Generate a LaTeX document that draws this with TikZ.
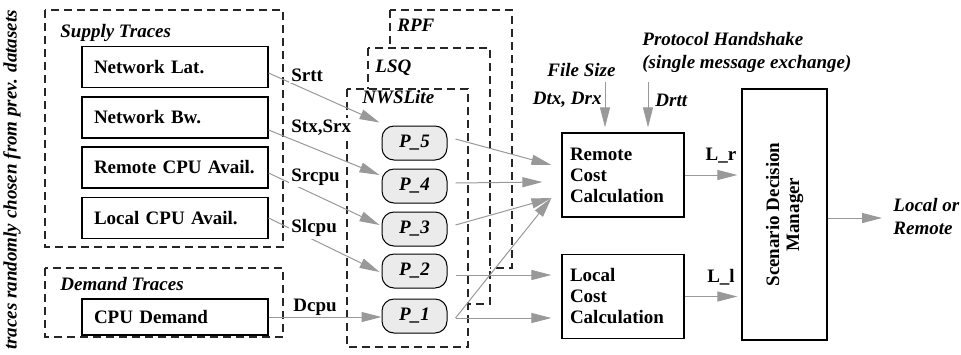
\documentclass[tikz,border=0pt]{standalone}
\usepackage{fontspec}
\setmainfont{Liberation Serif}
\usetikzlibrary{arrows.meta,calc}

\tikzset{
  txt/.style={font=\fontsize{9.5}{10.5}\selectfont\bfseries},
  itxt/.style={font=\fontsize{9.5}{11.5}\selectfont\bfseries\itshape},
  grp/.style={draw=black!85, line width=0.6pt, dash pattern=on 4pt off 2.5pt},
  trace/.style={txt, draw, line width=0.6pt, inner xsep=6pt, text width=81pt,
    minimum height=20.5pt, align=left},
  pnode/.style={itxt, draw, line width=0.5pt, fill=black!8, rounded corners=6pt,
    minimum width=32.5pt, minimum height=17pt, inner sep=0pt},
  cost/.style={txt, draw, line width=0.6pt, inner xsep=4pt, text width=53pt,
    minimum height=42pt, align=left},
  arr/.style={draw=black!40, line width=0.5pt, -{Triangle[length=10pt,width=5pt]}},
  tlbl/.style={txt, fill=white, inner sep=1pt, anchor=west}
}

\begin{document}
\begin{tikzpicture}[x=0.5pt, y=-0.5pt]
  \useasboundingbox (0,0) rectangle (961,354);

  % side note
  \node[itxt, rotate=90] (note) at (12,180) {traces randomly chosen from prev. datasets};

  % trace groups
  \draw[grp] (45,10) rectangle (283,247);
  \node[itxt, anchor=west, inner sep=0pt] (suplbl) at (60,33) {Supply Traces};
  \draw[grp] (45,268) rectangle (283,337);
  \node[itxt, anchor=west, inner sep=0pt] (demlbl) at (60,284) {Demand Traces};

  \node[trace] (nl) at (175,67) {Network Lat.};
  \node[trace] (nb) at (175,117.5) {Network Bw.};
  \node[trace] (rcpu) at (175,167.5) {Remote CPU Avail.};
  \node[trace] (lcpu) at (175,218) {Local CPU Avail.};
  \node[trace, minimum height=18pt] (cpud) at (175,317) {CPU Demand};

  % predictors (stacked)
  \draw[grp, fill=white] (390,10) rectangle (512,268);
  \node[itxt, anchor=west, inner sep=0pt] (rpflbl) at (397,25) {RPF};
  \draw[grp, fill=white] (368,48) rectangle (490,304);
  \node[itxt, anchor=west, inner sep=0pt] (lsqlbl) at (375,68) {LSQ};
  \draw[grp, fill=white] (347,89) rectangle (468,347);
  \node[itxt, anchor=west, inner sep=0pt] (nwslbl) at (362,97) {NWSLite};

  \foreach \i/\y in {5/143,4/186,3/229,2/271,1/316}
    \node[pnode] (p\i) at (414.5,\y) {P\_\i};

  % cost calculation
  \node[cost] (rc) at (623,175) {Remote\\Cost\\Calculation};
  \node[cost] (lc) at (623,296.5) {Local\\Cost\\Calculation};
  \node[txt, draw, line width=0.6pt, rotate=90, minimum width=125.5pt,
    minimum height=42.5pt, align=center, font=\fontsize{9.5}{10}\selectfont\bfseries]
    (sdm) at (784.5,214.5) {Scenario Decision\\Manager};

  % inputs from top
  \coordinate (fsin) at (605,82);
  \coordinate (hsin) at (648,82);
  \node[itxt] (fslbl) at (581.5,70) {File Size};
  \node[itxt, anchor=east, inner sep=0pt] (dtxlbl) at (602,100) {Dtx, Drx};
  \node[itxt, anchor=west, inner sep=0pt] (drttlbl) at (655,100) {Drtt};
  \node[itxt, anchor=west, align=left, inner sep=0pt] (hslbl) at (642,52)
    {Protocol Handshake\\(single message exchange)};
  \draw[arr, shorten >=2.5pt] (fsin) -- (fsin |- rc.north);
  \draw[arr, shorten >=2.5pt] (hsin) -- (hsin |- rc.north);

  % traces to predictors
  \draw[arr] ($(nl.east)+(0,6)$) -- ($(p5.north west)+(-2,-3)$);
  \draw[arr] ($(nb.east)+(0,12.5)$) -- ($(p4.west)+(-2,-11)$);
  \draw[arr] ($(rcpu.east)+(0,5.5)$) -- ($(p3.west)+(-2,-4)$);
  \draw[arr] (lcpu.east) -- ($(p2.west)+(-2,1)$);
  \draw[arr] (cpud.east) -- (cpud.east -| p1.west);

  % predictors to cost
  \draw[arr] ($(p5.east)+(8,-4)$) -- ($(rc.west)+(-10,-10)$);
  \draw[arr] ($(p4.east)+(8,-3)$) -- ($(rc.west)+(-19,7)$);
  \draw[arr] ($(p3.east)+(8,-4)$) -- ($(rc.west)+(-10,23)$);
  \draw[arr] ($(p1.east)+(8,2)$) -- ($(rc.west)+(-10,23)$);
  \draw[arr] ($(p2.east)+(8,4)$) -- ($(lc.west)+(-10,-21.5)$);
  \draw[arr] ($(p1.east)+(8,2)$) -- ($(lc.west)+(-10,21.5)$);

  % cost to manager (sdm is turned: north is its left side, south its right)
  \draw[arr, shorten >=2pt] (rc.east) -- (rc.east -| sdm.north);
  \node[txt] (lrlbl) at (721,156) {L\_r};
  \draw[arr, shorten >=2pt] (lc.east) -- (lc.east -| sdm.north);
  \node[txt] (lllbl) at (721,277) {L\_l};

  % decision
  \node[itxt, anchor=west, align=left, inner sep=0pt] (out) at (893,216) {Local or\\Remote};
  \coordinate (sdmout) at ($(sdm.south)+(0,3.5)$);
  \draw[arr, shorten >=5.5pt] (sdmout) -- (sdmout -| out.west);

  % line labels
  \node[tlbl] (srtt) at (289,75) {Srtt};
  \node[tlbl] (stx) at (289,128) {Stx,Srx};
  \node[tlbl] (srcpu) at (289,177) {Srcpu};
  \node[tlbl] (slcpu) at (289,228) {Slcpu};
  \node[tlbl] (dcpu) at (291,307) {Dcpu};
\end{tikzpicture}
\end{document}
